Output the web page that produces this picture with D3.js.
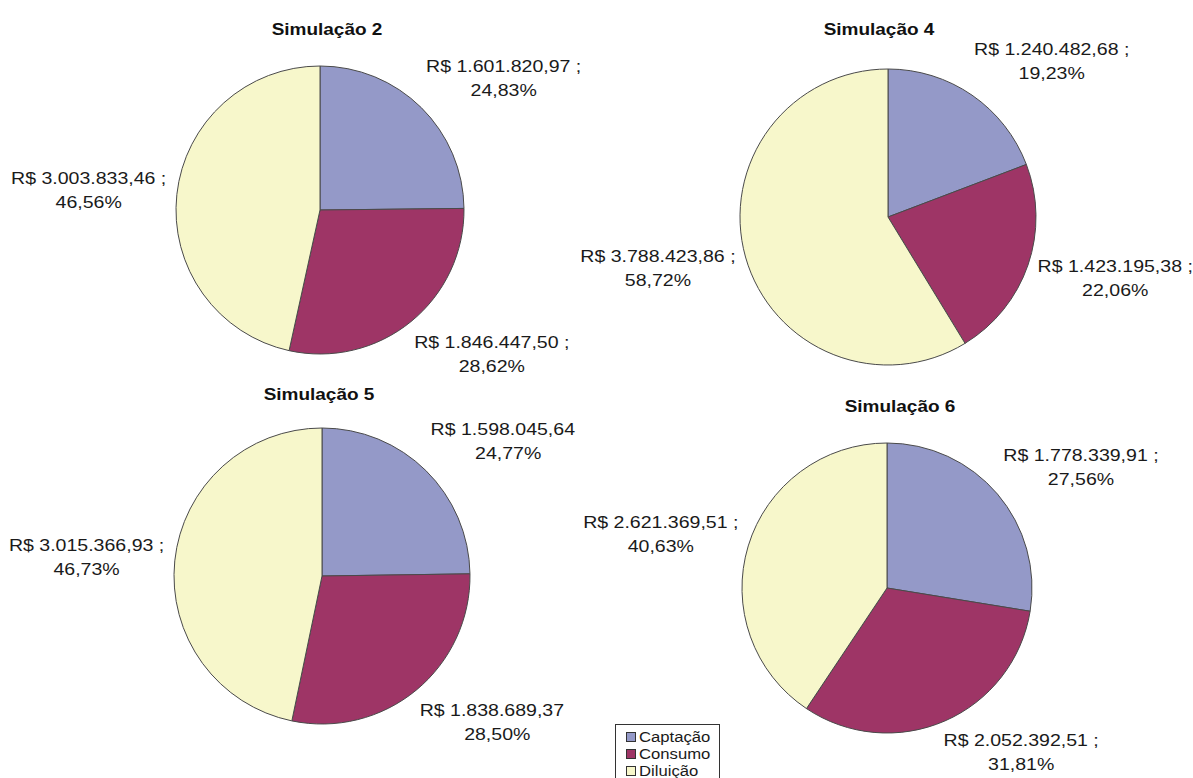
<!DOCTYPE html>
<html>
<head>
<meta charset="utf-8">
<script src="https://cdn.jsdelivr.net/npm/d3@7"></script>
<style>
  body { margin: 0; background: #fff; }
  svg { display: block; }
</style>
</head>
<body>
<svg id="chart" width="1193" height="778"></svg>
<script>
// Cost components (R$) per simulation
const categories = ["Captação", "Consumo", "Diluição"];
const sim2 = [1601820.97, 1846447.50, 3003833.46];
const sim4 = [1240482.68, 1423195.38, 3788423.86];
const sim5 = [1598045.64, 1838689.37, 3015366.93];
const sim6 = [1778339.91, 2052392.51, 2621369.51];
const titles = ["Simulação 2", "Simulação 4", "Simulação 5", "Simulação 6"];

const colors = ["#9499c8", "#9e3566", "#f7f7cb"];

const W = 1193, H = 778;

// Panel layout: pie centre/radius, title anchor and clip rectangles [x0, y0, x1, y1] of each chart area
const panels = [
  { title: titles[0], values: sim2, cx: 320, cy: 210, r: 144, tx: 327, ty: 35,
    clip: [[0, 0, 582, 380]] },
  { title: titles[1], values: sim4, cx: 888, cy: 217, r: 148, tx: 879, ty: 35,
    clip: [[580, 0, W, 380]] },
  { title: titles[2], values: sim5, cx: 322, cy: 576, r: 148, tx: 319, ty: 400,
    clip: [[0, 380, 578, 650], [0, 650, 569, H]] },
  { title: titles[3], values: sim6, cx: 887, cy: 588, r: 145, tx: 900, ty: 412,
    clip: [[580, 380, W, H]] }
];

const br = d3.formatLocale({ decimal: ",", thousands: ".", grouping: [3], currency: ["R$ ", ""] });
const fmtMoney = br.format("$,.2f");
const fmtPct = br.format(".2%");

const FONT = "'Liberation Sans', Arial, Helvetica, sans-serif";
const SX = 1.15; // horizontal stretch applied to all text

const svg = d3.select("#chart");
const color = d3.scaleOrdinal().domain(categories).range(colors);
const pie = d3.pie().sort(null).value(d => d);

function stretchedText(parent, x, y, str, opts) {
  const g = parent.append("g").attr("transform", `translate(${x},${y}) scale(${SX},1)`);
  const t = g.append("text")
    .attr("text-anchor", opts.anchor || "middle")
    .attr("font-family", FONT)
    .attr("font-size", opts.size)
    .attr("font-weight", opts.weight || "normal")
    .attr("fill", opts.fill || "#1a1a1a")
    .text(str);
  return { g, t };
}

const defs = svg.append("defs");

panels.forEach((p, i) => {
  const clipId = "clip" + i;
  defs.append("clipPath").attr("id", clipId)
    .selectAll("rect")
    .data(p.clip)
    .join("rect")
    .attr("x", d => d[0]).attr("y", d => d[1])
    .attr("width", d => d[2] - d[0]).attr("height", d => d[3] - d[1]);

  const panel = svg.append("g").attr("clip-path", `url(#${clipId})`);

  // Title
  stretchedText(panel, p.tx, p.ty, p.title, { size: 16.5, weight: "bold", fill: "#111" });

  // Slices
  const arcs = pie(p.values);
  const arc = d3.arc().innerRadius(0).outerRadius(p.r);
  const pg = panel.append("g").attr("transform", `translate(${p.cx},${p.cy})`);
  pg.selectAll("path")
    .data(arcs)
    .join("path")
    .attr("d", arc)
    .attr("fill", (d, j) => color(categories[j]))
    .attr("stroke", "#4a4a4a")
    .attr("stroke-width", 1);

  // Data labels: value and share, placed outside the slice along its mid-angle
  const total = d3.sum(p.values);
  arcs.forEach(a => {
    const th = (a.startAngle + a.endAngle) / 2;
    const s = Math.sin(th), c = -Math.cos(th);
    const line1 = fmtMoney(a.data) + " ;";
    const line2 = fmtPct(a.data / total);
    const probe = stretchedText(panel, 0, 0, line1, { size: 17 });
    const w = probe.t.node().getBBox().width * SX;
    probe.g.remove();
    const lx = p.cx + (p.r + 20) * s + Math.sign(s) * 0.44 * w;
    const ly = Math.min(p.cy + (p.r + 41) * c, H - 26); // keep the box inside the page
    stretchedText(panel, lx, ly - 6, line1, { size: 17 });
    stretchedText(panel, lx, ly + 18, line2, { size: 17 });
  });
});

// Legend
const lg = svg.append("g");
lg.append("rect")
  .attr("x", 615.5).attr("y", 724.5)
  .attr("width", 104).attr("height", 70)
  .attr("fill", "#fff").attr("stroke", "#333").attr("stroke-width", 1);
categories.forEach((cat, j) => {
  const y = 732 + j * 17;
  lg.append("rect")
    .attr("x", 626.5).attr("y", y + 0.5)
    .attr("width", 9).attr("height", 9)
    .attr("fill", color(cat)).attr("stroke", "#333").attr("stroke-width", 1);
  stretchedText(lg, 639, y + 10, cat, { size: 14.5, anchor: "start" });
});
</script>
</body>
</html>
